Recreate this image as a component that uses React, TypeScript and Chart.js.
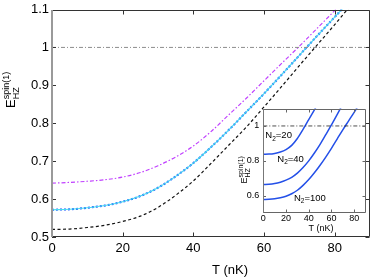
import React, { useEffect, useRef } from "react";
import { Chart, registerables } from "chart.js";
Chart.register(...registerables);

// ---------- data ----------
const temps = [0, 5, 10, 15, 20, 25, 30, 35, 40, 45, 50, 55, 60, 65, 70, 75, 80, 85];
const blackE = [0.52, 0.521, 0.525, 0.531, 0.541, 0.555, 0.578, 0.61, 0.648, 0.694, 0.742, 0.79, 0.843, 0.897, 0.952, 1.006, 1.06, 1.116];
const cyanE = [0.572, 0.573, 0.577, 0.583, 0.593, 0.608, 0.63, 0.66, 0.695, 0.737, 0.782, 0.83, 0.878, 0.928, 0.979, 1.03, 1.08, 1.13];
const magentaE = [0.642, 0.644, 0.647, 0.651, 0.658, 0.67, 0.688, 0.711, 0.74, 0.778, 0.822, 0.866, 0.912, 0.958, 1.003, 1.05, 1.097, 1.144];
const refLevel = 1;
const mainXTicks = [0, 20, 40, 60, 80];
const mainYTicks = [0.5, 0.6, 0.7, 0.8, 0.9, 1, 1.1];

const insetN20 = [0.838, 0.839, 0.843, 0.851, 0.865, 0.889, 0.928, 0.98, 1.036, 1.092, 1.15];
const insetN40 = [0.665, 0.666, 0.67, 0.678, 0.69, 0.706, 0.73, 0.762, 0.8, 0.845, 0.895, 0.95, 1.006, 1.065, 1.125];
const insetN100 = [0.579, 0.58, 0.583, 0.589, 0.598, 0.612, 0.632, 0.66, 0.693, 0.732, 0.775, 0.822, 0.872, 0.925, 0.978, 1.028, 1.078, 1.13];
const insetXTicks = [0, 20, 40, 60, 80];
const insetYTicks = [0.6, 0.8, 1];
const insetLabels = ["20", "40", "100"];
const insetLabelAnchors = [
  [1.8, 0.944],
  [12.3, 0.81],
  [27, 0.587],
];

const xTitle = "T (nK)";

// ---------- helpers ----------
const FONT = '"Liberation Sans", Arial, Helvetica, sans-serif';

function toPts(xs: number[], ys: number[]) {
  return ys.map((y, i) => ({ x: xs[i], y }));
}

function fmt(v: number) {
  return String(Math.round(v * 10) / 10);
}

function drawELabel(ctx: CanvasRenderingContext2D, x: number, y: number, big: number, small: number) {
  ctx.save();
  ctx.translate(x, y);
  ctx.rotate(-Math.PI / 2);
  ctx.fillStyle = "#000";
  ctx.textAlign = "left";
  ctx.textBaseline = "alphabetic";
  ctx.font = `${big}px ${FONT}`;
  ctx.fillText("E", 0, 0);
  const w = ctx.measureText("E").width;
  ctx.font = `${small}px ${FONT}`;
  ctx.fillText("spin(1)", w, -big * 0.45);
  ctx.fillText("HZ", w, big * 0.28);
  ctx.restore();
}

function framePlugin(id: string, tickLen: number, fill: boolean, leftColor: string, leftWidth: number, color: string) {
  return {
    id,
    beforeDatasetsDraw(chart: any) {
      if (!fill) return;
      const { ctx, chartArea: a } = chart;
      ctx.save();
      ctx.fillStyle = "#fff";
      ctx.fillRect(a.left, a.top, a.right - a.left, a.bottom - a.top);
      ctx.restore();
    },
    afterDatasetsDraw(chart: any) {
      const { ctx, chartArea: a, scales } = chart;
      const x = scales.x;
      const y = scales.y;
      const L = Math.round(a.left);
      const R = Math.round(a.right) - 0.5;
      const T = Math.round(a.top) + 0.5;
      const B = Math.round(a.bottom) - 0.5;
      ctx.save();
      ctx.lineWidth = 1;
      ctx.strokeStyle = color;
      ctx.beginPath();
      x.ticks.forEach((t: any) => {
        const px = Math.round(x.getPixelForValue(t.value)) + 0.5;
        ctx.moveTo(px, B);
        ctx.lineTo(px, B - tickLen);
        ctx.moveTo(px, T);
        ctx.lineTo(px, T + tickLen);
      });
      y.ticks.forEach((t: any) => {
        const py = Math.round(y.getPixelForValue(t.value)) + 0.5;
        ctx.moveTo(L, py);
        ctx.lineTo(L + tickLen, py);
        ctx.moveTo(R, py);
        ctx.lineTo(R - tickLen, py);
      });
      ctx.stroke();
      // box
      ctx.beginPath();
      ctx.moveTo(L, T);
      ctx.lineTo(R, T);
      ctx.lineTo(R, B);
      ctx.lineTo(L, B);
      ctx.stroke();
      ctx.strokeStyle = leftColor;
      ctx.lineWidth = leftWidth;
      ctx.beginPath();
      ctx.moveTo(L + (leftWidth % 2 ? 0.5 : 0), T - 0.5);
      ctx.lineTo(L + (leftWidth % 2 ? 0.5 : 0), B + 0.5);
      ctx.stroke();
      ctx.restore();
    },
  };
}

function lineDs(data: any[], color: string, width: number, dash: number[]) {
  return {
    data,
    borderColor: color,
    borderWidth: width,
    borderDash: dash,
    pointRadius: 0,
    fill: false,
    cubicInterpolationMode: "monotone",
    clip: 0,
  };
}

function scaleOpts(min: number, max: number, tickVals: number[], size: number, pad: number, fit: (s: any) => void) {
  return {
    type: "linear",
    min,
    max,
    afterBuildTicks: (s: any) => {
      s.ticks = tickVals.map((v) => ({ value: v }));
    },
    afterFit: fit,
    grid: { display: false, drawTicks: false },
    border: { display: false },
    ticks: {
      autoSkip: false,
      maxRotation: 0,
      padding: pad,
      color: "#000",
      font: { family: FONT, size, lineHeight: 1 },
      callback: (v: any) => fmt(Number(v)),
    },
  };
}

export default function App() {
  const mainRef = useRef<HTMLCanvasElement>(null);
  const insetRef = useRef<HTMLCanvasElement>(null);

  useEffect(() => {
    const mainTitles = {
      id: "mainTitles",
      afterDraw(chart: any) {
        const ctx = chart.ctx;
        ctx.save();
        ctx.fillStyle = "#000";
        ctx.font = `13px ${FONT}`;
        ctx.textAlign = "center";
        ctx.textBaseline = "middle";
        ctx.fillText(xTitle, 230, 270);
        ctx.restore();
        drawELabel(ctx, 15, 108, 13, 9);
      },
    };

    const main = new Chart(mainRef.current as HTMLCanvasElement, {
      type: "line",
      data: {
        datasets: [
          lineDs([{ x: 0, y: refLevel }, { x: 90, y: refLevel }], "#8c8c8c", 1, [4, 2, 1, 2]),
          lineDs(toPts(temps, blackE), "#111111", 1.2, [3, 2.5]),
          lineDs(toPts(temps, cyanE), "#48dcf0", 1.1, []),
          lineDs(toPts(temps, cyanE), "#1c50ff", 2, [2, 2]),
          lineDs(toPts(temps, magentaE), "#c040ff", 1.2, [4, 2, 1.5, 2]),
        ] as any,
      },
      options: {
        responsive: false,
        animation: false,
        devicePixelRatio: 1,
        events: [],
        layout: { padding: { left: 0, top: 6.6, right: 4, bottom: 0 } },
        plugins: { legend: { display: false }, tooltip: { enabled: false } },
        scales: {
          x: scaleOpts(0, 90, mainXTicks, 13, 5, (s: any) => {
            s.height = 40;
          }),
          y: scaleOpts(0.5, 1.1, mainYTicks, 13, 3, (s: any) => {
            s.width = 52;
          }),
        } as any,
      },
      plugins: [framePlugin("mainFrame", 4, false, "#9a9a9a", 2, "#333"), mainTitles],
    });

    const insetTitles = {
      id: "insetTitles",
      afterDraw(chart: any) {
        const ctx = chart.ctx;
        const xs = chart.scales.x;
        const ys = chart.scales.y;
        ctx.save();
        ctx.fillStyle = "#000";
        ctx.font = `9px ${FONT}`;
        ctx.textAlign = "center";
        ctx.textBaseline = "middle";
        ctx.fillText(xTitle, 91, 129);
        // N2 labels
        ctx.textAlign = "left";
        insetLabels.forEach((lab, i) => {
          const px = xs.getPixelForValue(insetLabelAnchors[i][0]);
          const py = ys.getPixelForValue(insetLabelAnchors[i][1]);
          ctx.font = `9.5px ${FONT}`;
          ctx.fillText("N", px, py);
          let w = ctx.measureText("N").width;
          ctx.font = `6.5px ${FONT}`;
          ctx.fillText("2", px + w, py + 3);
          w += ctx.measureText("2").width;
          ctx.font = `9.5px ${FONT}`;
          ctx.fillText("=" + lab, px + w, py);
        });
        ctx.restore();
        drawELabel(ctx, 17, 83.5, 9, 7);
      },
    };

    const inset = new Chart(insetRef.current as HTMLCanvasElement, {
      type: "line",
      data: {
        datasets: [
          lineDs([{ x: 0, y: refLevel }, { x: 90, y: refLevel }], "#222", 0.8, [4, 2, 1, 2]),
          lineDs(toPts(temps, insetN20), "#2450e8", 1.5, []),
          lineDs(toPts(temps, insetN40), "#2450e8", 1.5, []),
          lineDs(toPts(temps, insetN100), "#2450e8", 1.5, []),
        ] as any,
      },
      options: {
        responsive: false,
        animation: false,
        devicePixelRatio: 1,
        events: [],
        layout: { padding: { left: 0, top: 7.3, right: 4.5, bottom: 0 } },
        plugins: { legend: { display: false }, tooltip: { enabled: false } },
        scales: {
          x: scaleOpts(0, 90, insetXTicks, 9, 1, (s: any) => {
            s.height = 23.7;
          }),
          y: scaleOpts(0.5, 1.1, insetYTicks, 9, 4, (s: any) => {
            s.width = 33.3;
          }),
        } as any,
      },
      plugins: [framePlugin("insetFrame", 3, true, "#777", 1, "#666"), insetTitles],
    });

    return () => {
      main.destroy();
      inset.destroy();
    };
  }, []);

  return (
    <div style={{ position: "fixed", left: 0, top: 0, width: 374, height: 277, background: "#fff" }}>
      <canvas
        ref={mainRef}
        width={374}
        height={277}
        style={{ position: "absolute", left: 0, top: 0, width: 374, height: 277 }}
      />
      <canvas
        ref={insetRef}
        width={140}
        height={137}
        style={{ position: "absolute", left: 230, top: 100, width: 140, height: 137 }}
      />
    </div>
  );
}
